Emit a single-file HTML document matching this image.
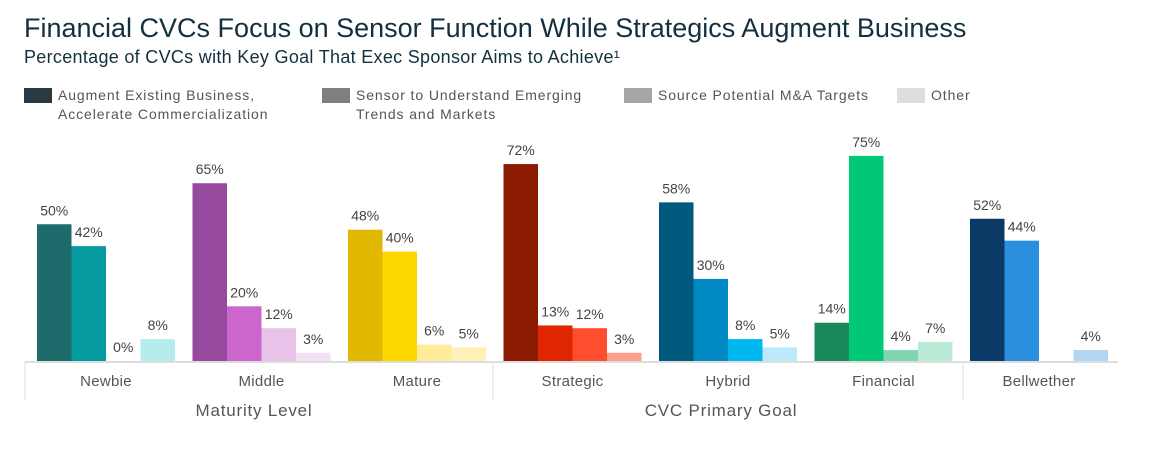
<!DOCTYPE html>
<html><head><meta charset="utf-8"><style>
body{margin:0;background:#fff;width:1151px;height:450px;overflow:hidden;font-family:"Liberation Sans",sans-serif}
.t{position:absolute;left:24px;top:13px;font-size:27px;color:#13303f;letter-spacing:0px}
.s{position:absolute;left:24px;top:47px;font-size:18px;color:#13303f;letter-spacing:0.3px}
.lg{position:absolute;top:86px;font-size:14px;color:#555;line-height:19px;letter-spacing:0.9px}
.lg i{position:absolute;left:-34px;top:2px;width:28px;height:15px}
</style></head><body>
<div class="t">Financial CVCs Focus on Sensor Function While Strategics Augment Business</div>
<div class="s">Percentage of CVCs with Key Goal That Exec Sponsor Aims to Achieve¹</div>
<div class="lg" style="left:58px"><i style="background:#2b3a42"></i>Augment Existing Business,<br>Accelerate Commercialization</div>
<div class="lg" style="left:356px"><i style="background:#7f7f7f"></i>Sensor to Understand Emerging<br>Trends and Markets</div>
<div class="lg" style="left:658px"><i style="background:#a6a6a6"></i>Source Potential M&amp;A Targets</div>
<div class="lg" style="left:931px"><i style="background:#dedede"></i>Other</div>
<svg id="c" width="1151" height="450" style="position:absolute;left:0;top:0"></svg>
<script>
const categories=["Newbie","Middle","Mature","Strategic","Hybrid","Financial","Bellwether"];
const augment=[50,65,48,72,58,14,52];
const sensor=[42,20,40,13,30,75,44];
const ma=[0,12,6,12,8,4,null];
const other=[8,3,5,3,5,7,4];
const colors=[["#1d6b6b","#059a9e","#8fd","#b6ecec"],["#964a9e","#cc66cc","#e9c2ea","#f3e0f4"],["#e0b800","#ffd700","#ffeb99","#fff0b8"],["#8b1a00","#e02600","#ff4d2e","#ff9f88"],["#005a7e","#0088c2","#00b8f0","#bde9fd"],["#1a8a5a","#00c878","#80d6b3","#b9ebd6"],["#0b3a66","#2b8fe0","#999","#b3d6f2"]];
const svg=document.getElementById('c');const NS="http://www.w3.org/2000/svg";
const base=361,k=2.735,x0=37,gw=155.5,bw=34.5;
const y=v=>base-v*k;const gx=i=>x0+i*gw;
function mk(t,a){const e=document.createElementNS(NS,t);for(const n in a)e.setAttribute(n,a[n]);svg.appendChild(e);return e;}
const series=[augment,sensor,ma,other];
categories.forEach((c,i)=>{
 series.forEach((s,j)=>{
  const v=s[i];if(v===null)return;
  const bx=gx(i)+j*bw;
  if(v>0){const r=mk('rect',{x:bx,y:y(v),width:bw,height:v*k,fill:colors[i][j]});
  
  }
  const t=mk('text',{x:bx+bw/2,y:y(v)-9,'text-anchor':'middle','font-size':14,fill:'#444','font-family':'Liberation Sans'});
  t.textContent=v+'%';
  
  
 });
 const l=mk('text',{x:gx(i)+2*bw,y:386,'text-anchor':'middle','font-size':15,fill:'#555','font-family':'Liberation Sans','letter-spacing':0.3});
 l.textContent=c;
 
 
});
const ax=mk('line',{x1:25,x2:1118,y1:base+1,y2:base+1,stroke:'#ddd','stroke-width':2});


[25,493,963].forEach(x=>{const s=mk('line',{x1:x,x2:x,y1:base+1,y2:400,stroke:'#ddd'});
 
 });
[["Maturity Level",254],["CVC Primary Goal",721]].forEach(g=>{const t=mk('text',{x:g[1],y:416,'text-anchor':'middle','font-size':17,fill:'#555','font-family':'Liberation Sans','letter-spacing':0.8});t.textContent=g[0];
 
 });
</script>
</body></html>
